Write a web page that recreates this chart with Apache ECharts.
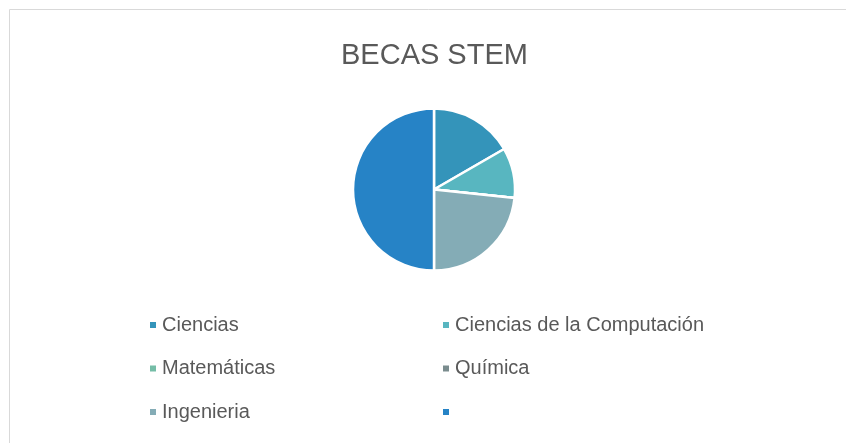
<!DOCTYPE html>
<html lang="es">
<head>
    <meta charset="UTF-8">
    <title>BECAS STEM</title>
    <script src="https://cdn.jsdelivr.net/npm/echarts@6/dist/echarts.min.js"></script>
    <style>
        html, body { margin: 0; padding: 0; background: #fff; }
        #chart { width: 846px; height: 443px; }
    </style>
</head>
<body>
<div id="chart"></div>
<script>
    // datos
    var categorias = ['Ciencias', 'Ciencias de la Computación', 'Matemáticas', 'Química', 'Ingenieria', ' '];
    var valores = [5, 3, 0, 0, 7, 15];
    var colores = ['#3494BA', '#58B6C0', '#75BDA7', '#7A8C8E', '#84ACB6', '#2683C6'];

    var datos = [];
    for (var i = 0; i < categorias.length; i++) {
        datos.push({name: categorias[i], value: valores[i], itemStyle: {color: colores[i]}});
    }

    var textoLeyenda = {color: '#595959', fontSize: 20, fontFamily: 'Liberation Sans', lineHeight: 20};

    var chart = echarts.init(document.getElementById('chart'));
    var option = {
        animation: false,
        title: {
            text: 'BECAS STEM',
            left: 336,
            top: 36,
            textStyle: {color: '#595959', fontSize: 29, fontWeight: 'normal', fontFamily: 'Liberation Sans'}
        },
        graphic: [{
            type: 'rect',
            shape: {x: 9.5, y: 9.5, width: 900, height: 500},
            style: {fill: 'none', stroke: '#d9d9d9', lineWidth: 1}
        }],
        legend: [{
            orient: 'vertical',
            left: 143,
            top: 310,
            itemWidth: 8,
            itemHeight: 8,
            itemGap: 23.5,
            icon: 'rect',
            data: [categorias[0], categorias[2], categorias[4]],
            textStyle: textoLeyenda
        }, {
            orient: 'vertical',
            left: 436,
            top: 310,
            itemWidth: 8,
            itemHeight: 8,
            itemGap: 23.5,
            icon: 'rect',
            data: [categorias[1], categorias[3], categorias[5]],
            textStyle: textoLeyenda
        }],
        series: [{
            type: 'pie',
            center: [434, 189.5],
            radius: 81,
            startAngle: 90,
            label: {show: false},
            labelLine: {show: false},
            itemStyle: {borderColor: '#fff', borderWidth: 2.5},
            data: datos
        }]
    };
    chart.setOption(option);
</script>
</body>
</html>
